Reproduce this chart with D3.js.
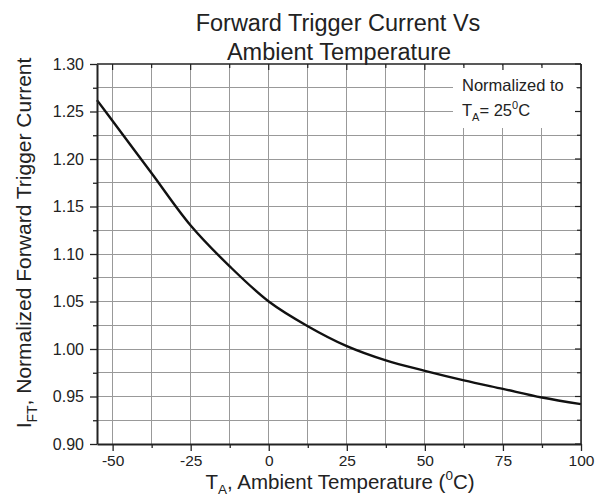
<!DOCTYPE html>
<html>
<head>
<meta charset="utf-8">
<script src="https://cdn.jsdelivr.net/npm/d3@7"></script>
<style>
  html, body { margin: 0; padding: 0; background: #fff; }
  svg { display: block; font-family: "Liberation Sans", Arial, sans-serif; }
</style>
</head>
<body>
<svg id="chart" width="602" height="499"></svg>
<script>
// ---- data ----
const temperatures = [-55, -50, -37.5, -25, -12.5, 0, 12.5, 25, 37.5, 50, 62.5, 75, 87.5, 100];
const currentValues = [1.262, 1.240, 1.185, 1.130, 1.087, 1.050, 1.024, 1.003, 0.988, 0.977, 0.967, 0.958, 0.949, 0.942];
const xMajorTicks = [-50, -25, 0, 25, 50, 75, 100];
const xTickLabels = ["-50", "-25", "0", "25", "50", "75", "100"];
const xMinorTicks = [-37.5, -12.5, 12.5, 37.5, 62.5, 87.5];
const yMajorTicks = [0.90, 0.95, 1.00, 1.05, 1.10, 1.15, 1.20, 1.25, 1.30];
const yTickLabels = ["0.90", "0.95", "1.00", "1.05", "1.10", "1.15", "1.20", "1.25", "1.30"];
const yMinorTicks = [0.925, 0.975, 1.025, 1.075, 1.125, 1.175, 1.225, 1.275];
const xDomain = [-55, 100];
const yDomain = [0.90, 1.30];

// ---- layout ----
const L = 97, R = 581, T = 64, B = 444;
const svg = d3.select("#chart");
const x = d3.scaleLinear().domain(xDomain).range([L, R]);
const y = d3.scaleLinear().domain(yDomain).range([B, T]);
const textColor = "#222";

// gridlines
const grid = svg.append("g").attr("shape-rendering", "crispEdges");
grid.selectAll("line.vx").data(xMajorTicks.concat(xMinorTicks)).join("line")
  .attr("x1", d => x(d)).attr("x2", d => x(d)).attr("y1", T).attr("y2", B)
  .attr("stroke", "#999").attr("stroke-width", 1);
grid.selectAll("line.hy").data(yMajorTicks.concat(yMinorTicks).filter(d => d > 0.9 && d < 1.3)).join("line")
  .attr("x1", L).attr("x2", R).attr("y1", d => y(d)).attr("y2", d => y(d))
  .attr("stroke", "#999").attr("stroke-width", 1);

// legend background box (hides gridlines)
svg.append("rect").attr("x", 453).attr("y", 66).attr("width", 123).attr("height", 62).attr("fill", "#fff");

// curve
const line = d3.line().x((d, i) => x(temperatures[i])).y(d => y(d)).curve(d3.curveCatmullRom.alpha(0.5));
svg.append("path").datum(currentValues).attr("d", line)
  .attr("fill", "none").attr("stroke", "#111").attr("stroke-width", 2.4).attr("stroke-linejoin", "round");

// border (top and right thinner)
svg.append("line").attr("x1", L).attr("x2", R).attr("y1", T).attr("y2", T).attr("stroke", "#222").attr("stroke-width", 1.5);
svg.append("line").attr("x1", R).attr("x2", R).attr("y1", T).attr("y2", B).attr("stroke", "#222").attr("stroke-width", 1.5);

// mirror inward ticks
const topTicks = svg.append("g");
topTicks.selectAll("line").data(xMajorTicks.concat(xMinorTicks)).join("line")
  .attr("x1", d => x(d)).attr("x2", d => x(d)).attr("y1", T).attr("y2", d => T + (xMajorTicks.includes(d) ? 6 : 4))
  .attr("stroke", "#222").attr("stroke-width", 1.2);
const rightTicks = svg.append("g");
rightTicks.selectAll("line").data(yMajorTicks.concat(yMinorTicks)).join("line")
  .attr("y1", d => y(d)).attr("y2", d => y(d)).attr("x1", R).attr("x2", d => R - (yMajorTicks.includes(d) ? 6 : 4))
  .attr("stroke", "#222").attr("stroke-width", 1.2);

// bottom axis
const xAxis = d3.axisBottom(x).tickValues(xMajorTicks).tickSize(7).tickSizeOuter(0).tickPadding(4)
  .tickFormat((d, i) => xTickLabels[i]);
const gx = svg.append("g").attr("transform", `translate(0,${B})`).call(xAxis);
gx.selectAll(".tick line").attr("stroke", "#222").attr("stroke-width", 1.3);
gx.selectAll(".tick text").attr("fill", textColor).attr("font-size", 15.5).attr("font-family", "Liberation Sans, Arial, sans-serif");
gx.select(".domain").attr("stroke", "#222").attr("stroke-width", 2);
const xMinorAxis = d3.axisBottom(x).tickValues(xMinorTicks).tickSize(4).tickSizeOuter(0).tickFormat("");
const gxm = svg.append("g").attr("transform", `translate(0,${B})`).call(xMinorAxis);
gxm.select(".domain").remove();
gxm.selectAll(".tick line").attr("stroke", "#222").attr("stroke-width", 1.3);

// left axis
const yAxis = d3.axisLeft(y).tickValues(yMajorTicks).tickSize(7).tickSizeOuter(0).tickPadding(6)
  .tickFormat((d, i) => yTickLabels[i]);
const gy = svg.append("g").attr("transform", `translate(${L},0)`).call(yAxis);
gy.selectAll(".tick line").attr("stroke", "#222").attr("stroke-width", 1.3);
gy.selectAll(".tick text").attr("fill", textColor).attr("font-size", 16).attr("font-family", "Liberation Sans, Arial, sans-serif");
gy.select(".domain").attr("stroke", "#222").attr("stroke-width", 2);
const yMinorAxis = d3.axisLeft(y).tickValues(yMinorTicks).tickSize(4).tickSizeOuter(0).tickFormat("");
const gym = svg.append("g").attr("transform", `translate(${L},0)`).call(yMinorAxis);
gym.select(".domain").remove();
gym.selectAll(".tick line").attr("stroke", "#222").attr("stroke-width", 1.3);

// title
const title = svg.append("text").attr("text-anchor", "middle").attr("font-size", 23.5).attr("fill", textColor);
title.append("tspan").attr("x", 338).attr("y", 31).text("Forward Trigger Current Vs");
title.append("tspan").attr("x", 339).attr("y", 60).text("Ambient Temperature");

// legend text
svg.append("text").attr("x", 462).attr("y", 91).attr("font-size", 16.5).attr("fill", textColor).text("Normalized to");
const lt = svg.append("text").attr("x", 462).attr("y", 116).attr("font-size", 16.5).attr("fill", textColor);
lt.append("tspan").text("T");
lt.append("tspan").attr("font-size", 11).attr("dy", 5).text("A");
lt.append("tspan").attr("dy", -5).text("= 25");
lt.append("tspan").attr("font-size", 11).attr("dy", -7).text("0");
lt.append("tspan").attr("dy", 7).text("C");

// x axis title
const xt = svg.append("text").attr("x", 340).attr("y", 489).attr("text-anchor", "middle").attr("font-size", 20.5).attr("fill", textColor);
xt.append("tspan").text("T");
xt.append("tspan").attr("font-size", 13.5).attr("dy", 5).text("A");
xt.append("tspan").attr("dy", -5).text(", Ambient Temperature (");
xt.append("tspan").attr("font-size", 13.5).attr("dy", -9).text("0");
xt.append("tspan").attr("dy", 9).text("C)");

// y axis title
const yt = svg.append("text").attr("transform", "translate(31,243) rotate(-90)").attr("text-anchor", "middle").attr("font-size", 21).attr("fill", textColor);
yt.append("tspan").text("I");
yt.append("tspan").attr("font-size", 14).attr("dy", 6).text("FT");
yt.append("tspan").attr("dy", -6).text(", Normalized Forward Trigger Current");
</script>
</body>
</html>
